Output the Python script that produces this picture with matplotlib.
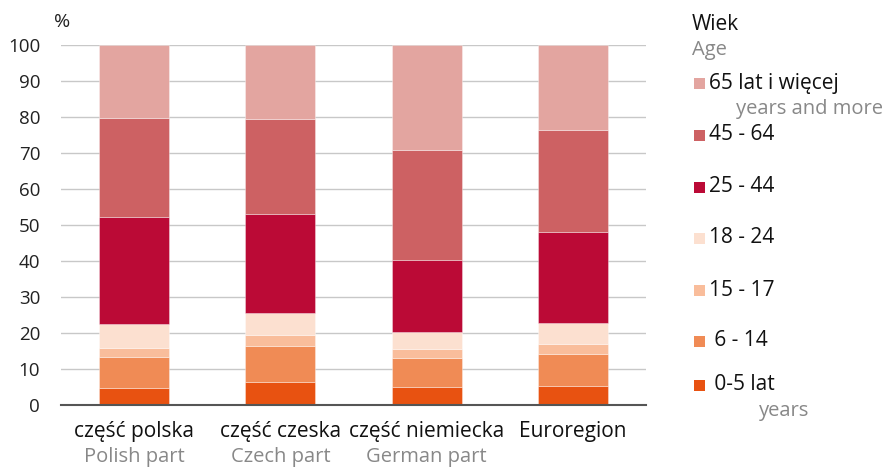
import matplotlib
matplotlib.use("Agg")
import matplotlib.pyplot as plt
import matplotlib.patches as mpatches
import matplotlib.transforms as mtransforms
import numpy as np

plt.rcParams['font.family'] = ['Open Sans', 'DejaVu Sans']

# data (percent of population by age group)
regions_pl = ["część polska", "część czeska", "część niemiecka", "Euroregion"]
regions_en = ["Polish part", "Czech part", "German part", ""]

age_0_5 = [4.6, 6.3, 4.8, 5.1]
age_6_14 = [8.5, 9.9, 8.1, 8.9]
age_15_17 = [2.6, 3.05, 2.6, 2.7]
age_18_24 = [6.8, 6.25, 4.7, 6.0]
age_25_44 = [29.5, 27.4, 19.9, 25.2]
age_45_64 = [27.5, 26.4, 30.5, 28.3]
age_65 = [20.5, 20.7, 29.4, 23.8]

groups = [age_0_5, age_6_14, age_15_17, age_18_24, age_25_44, age_45_64, age_65]
colors = ['#e85211', '#f08b55', '#f9bd9b', '#fce0d0', '#bb0a36', '#cd6163', '#e3a5a0']

legend_main = ["65 lat i więcej", "45 - 64", "25 - 44", "18 - 24", "15 - 17", " 6 - 14", " 0-5 lat"]
legend_sub = ["years and more", "", "", "", "", "", "years"]

fig = plt.figure(figsize=(8.87, 4.67), dpi=100)
ax = fig.add_axes([0.0688, 0.1338, 0.6595, 0.7709])

x = np.arange(len(regions_pl))
bottom = np.zeros(len(x))
for vals, col in zip(groups, colors):
    ax.bar(x, vals, width=0.48, bottom=bottom, color=col,
           edgecolor=(1, 1, 1, 0.4), linewidth=0.6, zorder=3)
    bottom += np.array(vals)

ax.set_xlim(-0.5, 3.5)
ax.set_ylim(0, 100)
ax.set_yticks(np.arange(0, 101, 10))
ax.yaxis.grid(True, color='#c8c8c8', linewidth=1.0, zorder=0)
ax.tick_params(axis='y', length=0, pad=15, labelsize=13.5, labelcolor='#222222')
ax.set_xticks([])
for s in ['top', 'right', 'left']:
    ax.spines[s].set_visible(False)
ax.spines['bottom'].set_color('#555555')
ax.spines['bottom'].set_linewidth(1.5)
ax.spines['bottom'].set_zorder(4)

fig.text(62 / 887, 1 - 22 / 467, "%", fontsize=14, color='#222222',
         ha='center', va='center')

# category labels (Polish / English)
trans = mtransforms.blended_transform_factory(ax.transData, fig.transFigure)
for xi, pl, en in zip(x, regions_pl, regions_en):
    ax.text(xi, 1 - 432 / 467, pl, transform=trans, ha='center', va='center',
            fontsize=15, color='#111111')
    if en:
        ax.text(xi, 1 - 457 / 467, en, transform=trans, ha='center', va='center',
                fontsize=14.5, color='#888888')

# legend drawn by hand
fig.text(692 / 887, 1 - 25 / 467, "Wiek", fontsize=15, color='#111111', va='center')
fig.text(692 / 887, 1 - 50 / 467, "Age", fontsize=14.5, color='#888888', va='center')

row_y = [83, 135, 187, 238, 290, 341, 385]
sub_pos = {0: (736, 109), 6: (759, 411)}
for i, (lab, sub) in enumerate(zip(legend_main, legend_sub)):
    yc = row_y[i]
    col = colors[len(colors) - 1 - i]
    fig.patches.append(mpatches.Rectangle((694 / 887, 1 - (yc + 5.5) / 467),
                                          11 / 887, 11 / 467,
                                          transform=fig.transFigure,
                                          facecolor=col, edgecolor='none'))
    fig.text(709 / 887, 1 - yc / 467, lab, fontsize=15, color='#111111', va='center')
    if sub:
        sx, sy = sub_pos[i]
        fig.text(sx / 887, 1 - sy / 467, sub, fontsize=14.5, color='#888888', va='center')

fig.savefig("out.png", dpi=100)
